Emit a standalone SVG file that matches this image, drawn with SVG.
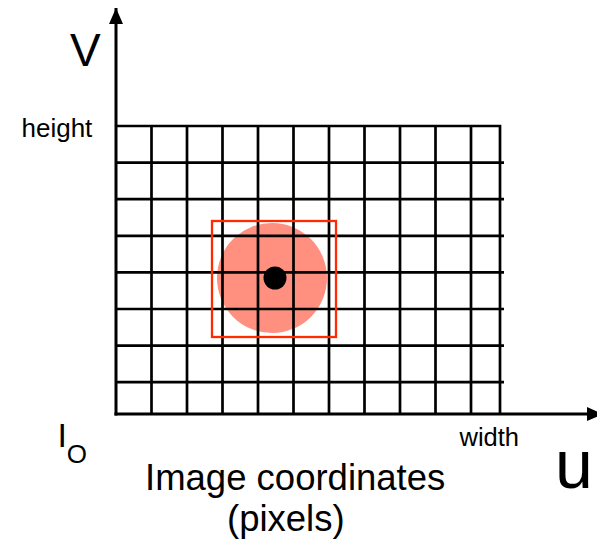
<svg xmlns="http://www.w3.org/2000/svg" width="597" height="540" viewBox="0 0 597 540">
<style>
.t{font-family:"Liberation Sans",Arial,sans-serif;fill:#000}
.g{stroke:#000;stroke-width:2.7;fill:none}
.ax{stroke:#000;stroke-width:3;fill:none}
</style>
<defs>
<marker id="arr" markerUnits="userSpaceOnUse" markerWidth="16" markerHeight="14" refX="16" refY="7" orient="auto" viewBox="0 0 16 14">
<path d="M0,0 L16,7 L0,14 z" fill="#000"/>
</marker>
</defs>
<rect width="597" height="540" fill="#fff"/>
<g id="blob">
<circle cx="272" cy="278" r="55" fill="#ff9080"/>
</g>
<g id="grid" class="g">
<path d="M116,126 H500 V414"/>
<path d="M151.5,126V413 M187,126V413 M222.5,126V413 M258,126V413 M293.5,126V413 M329,126V413 M364.5,126V413 M400,126V413 M435.5,126V413 M471,126V413"/>
<path d="M116,162.6H504 M116,199.2H504 M116,235.8H504 M116,272.4H504 M116,309H504 M116,345.6H504 M116,382.2H504"/>
</g>
<g id="window">
<rect x="212" y="221" width="124" height="116" fill="none" stroke="#ff2a00" stroke-width="2.3"/>
</g>
<g id="point">
<circle cx="275" cy="278" r="11.5" fill="#000"/>
</g>
<g id="connectors">
<line class="ax" x1="116" y1="415.5" x2="116" y2="8" marker-end="url(#arr)"/>
<line class="ax" x1="114.5" y1="414" x2="603" y2="414" marker-end="url(#arr)"/>
</g>
<g id="labels">
<text class="t" x="70" y="66" font-size="46">V</text>
<text class="t" x="21.5" y="136.7" font-size="26">height</text>
<text class="t" x="459.5" y="446" font-size="25.5">width</text>
<text class="t" x="555" y="488" font-size="68">u</text>
<text class="t" x="57.5" y="447" font-size="34">I</text>
<text class="t" x="66.7" y="462.5" font-size="26">O</text>
<text class="t" x="145" y="489.5" font-size="36.5">Image coordinates</text>
<text class="t" x="227" y="531" font-size="36.5">(pixels)</text>
</g>
</svg>
